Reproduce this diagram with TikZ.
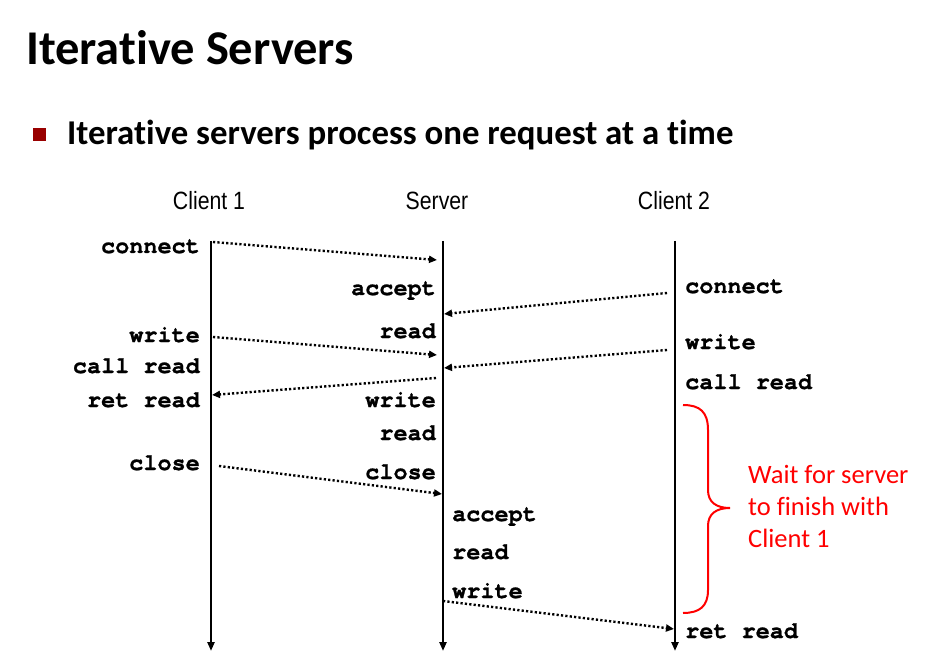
\documentclass[tikz,border=0pt]{standalone}
\usepackage{fontspec}
\setmainfont{Carlito}[Ligatures={NoCommon}]
\setmonofont{TeX Gyre Cursor}[BoldFeatures={FakeBold=1}]
\newfontfamily\lanefont[FakeStretch=0.85]{Liberation Sans}
\usetikzlibrary{arrows.meta}
\definecolor{bulletred}{HTML}{990000}
\definecolor{notered}{HTML}{FF0000}
\begin{document}
\begin{tikzpicture}[x=1pt,y=-1pt,
  lane/.style={line width=2.4pt,-{Triangle[length=9pt,width=7pt]}},
  msg/.style={line width=2.4pt,dash pattern=on 2.2pt off 2.2pt,-{Triangle[length=8pt,width=7pt]}},
  call/.style={font=\fontsize{23.5}{24}\selectfont\ttfamily\bfseries,inner sep=0pt},
  lanelabel/.style={font=\fontsize{25}{26}\selectfont\lanefont,inner sep=0pt,anchor=base},
]
% page
\fill[white] (0,0) rectangle (929,668);
\path[use as bounding box] (0,0) rectangle (929,668);

% headings
\node[font=\fontsize{48.5}{50}\selectfont\bfseries,inner sep=0pt,anchor=base west] (title) at (26,65) {Iterative Servers};
\fill[bulletred] (33,128) rectangle (46,141);
\node[font=\fontsize{34.8}{36}\selectfont\bfseries,inner sep=0pt,anchor=base west] (subtitle) at (67,145) {Iterative servers process one request at a time};

% lane headers
\node[lanelabel] (h1) at (209,210) {Client 1};
\node[lanelabel] (hs) at (437,210) {Server};
\node[lanelabel] (h2) at (674,210) {Client 2};

% time lines
\coordinate (c1top) at (211,241);  \coordinate (c1bot) at (211,651);
\coordinate (svtop) at (443,241);  \coordinate (svbot) at (443,651);
\coordinate (c2top) at (675,241);  \coordinate (c2bot) at (675,651);
\draw[lane] (c1top) -- (c1bot);
\draw[lane] (svtop) -- (svbot);
\draw[lane] (c2top) -- (c2bot);

% client 1 calls
\node[call,anchor=base east] (c1connect) at (200,253) {connect};
\node[call,anchor=base east] (c1write) at (200,342) {write};
\node[call,anchor=base east] (c1call) at (200,373) {call read};
\node[call,anchor=base east] (c1ret) at (200,407) {ret read};
\node[call,anchor=base east] (c1close) at (200,470) {close};

% server calls, first session
\node[call,anchor=base east] (saccept1) at (436,295) {accept};
\node[call,anchor=base east] (sread1) at (436,338) {read};
\node[call,anchor=base east] (swrite1) at (436,407) {write};
\node[call,anchor=base east] (sread1b) at (436,440) {read};
\node[call,anchor=base east] (sclose1) at (436,479) {close};

% server calls, second session
\node[call,anchor=base west] (saccept2) at (452,521) {accept};
\node[call,anchor=base west] (sread2) at (452,559) {read};
\node[call,anchor=base west] (swrite2) at (452,598) {write};

% client 2 calls
\node[call,anchor=base west] (c2connect) at (685,293) {connect};
\node[call,anchor=base west] (c2write) at (685,349) {write};
\node[call,anchor=base west] (c2call) at (685,389) {call read};
\node[call,anchor=base west] (c2ret) at (685,638) {ret read};

% message end points on the time lines
\coordinate (a1) at (213,242);  \coordinate (b1) at (437,260);
\coordinate (a2) at (667,293);  \coordinate (b2) at (444,314);
\coordinate (a3) at (213,337);  \coordinate (b3) at (437,355);
\coordinate (a4) at (667,350);  \coordinate (b4) at (444,368);
\coordinate (a5) at (436,378);  \coordinate (b5) at (212,395);
\coordinate (a6) at (219,466);  \coordinate (b6) at (442,494);
\coordinate (a7) at (443,601);  \coordinate (b7) at (674,629);

\draw[msg] (a1) -- (b1);
\draw[msg] (a2) -- (b2);
\draw[msg] (a3) -- (b3);
\draw[msg] (a4) -- (b4);
\draw[msg] (a5) -- (b5);
\draw[msg] (a6) -- (b6);
\draw[msg] (a7) -- (b7);

% waiting brace and note
\draw[notered,line width=2pt]
  (683,405) .. controls (700,405) and (708,412) .. (708,430)
  -- (708,490) .. controls (708,502) and (716,508) .. (730,508)
  .. controls (716,508) and (708,514) .. (708,526)
  -- (708,590) .. controls (708,606) and (700,613) .. (683,613);
\node[font=\fontsize{26.5}{32}\selectfont,text=notered,align=left,inner sep=0pt,anchor=west] (note) at (748,506)
  {Wait for server\\to finish with\\Client 1};
\end{tikzpicture}
\end{document}
